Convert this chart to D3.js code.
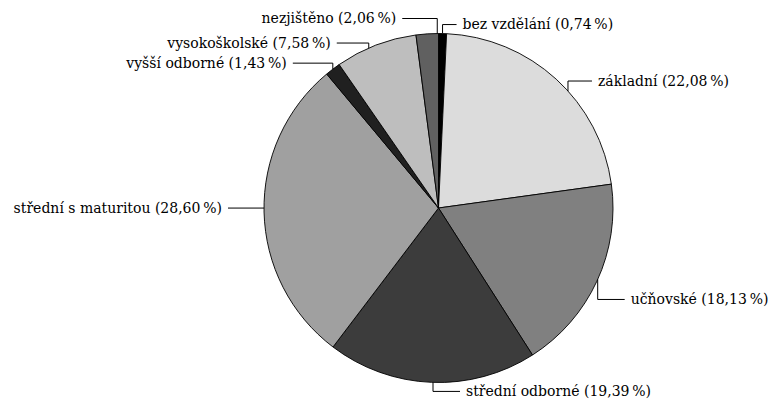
<!DOCTYPE html>
<html>
<head>
<meta charset="utf-8">
<script src="https://cdn.jsdelivr.net/npm/d3@7"></script>
<style>
  body { margin: 0; background: #fff; }
  svg text { font-family: "DejaVu Serif", serif; font-size: 14px; fill: #000; }
</style>
</head>
<body>
<script>
// data, clockwise from 12 o'clock
const categories = ["bez vzdělání", "základní", "učňovské", "střední odborné",
    "střední s maturitou", "vyšší odborné", "vysokoškolské", "nezjištěno"];
const shares = [0.74, 22.08, 18.13, 19.39, 28.60, 1.43, 7.58, 2.06];
const shades = ["#000000", "#dcdcdc", "#808080", "#3c3c3c", "#a0a0a0", "#202020", "#bebebe", "#606060"];

// leader lines: angle nudge (deg), vertical rise, horizontal run, side
const nudge = [0, 5.5, -0.6, -0.5, 1.3, 0, -2.5, 3.3];
const rise = [9, 10, 20, 9, 0, 6, 5, 15];
const run = [14, 24, 27, 27, 36, 40, 32, 35];
const side = [1, 1, 1, 1, -1, -1, -1, -1];

const width = 771, height = 400;
const cx = 438.5, cy = 208, radius = 174.5;

const fmt = v => d3.format(".2f")(v).replace(".", ",") + "\u2009%";

const svg = d3.select("body").append("svg")
    .attr("width", width)
    .attr("height", height);

const g = svg.append("g")
    .attr("transform", "translate(" + cx + "," + cy + ")");

const pie = d3.pie().sort(null).value(d => d.value);
const arcs = pie(categories.map((c, i) => ({name: c, value: shares[i], i: i})));

const arc = d3.arc().innerRadius(0).outerRadius(radius);

g.selectAll("path.slice")
    .data(arcs)
    .enter()
    .append("path")
    .attr("class", "slice")
    .attr("d", arc)
    .attr("fill", d => shades[d.data.i])
    .attr("stroke", "#000")
    .attr("stroke-width", 0.9)
    .attr("stroke-linejoin", "round");

// leaders
arcs.forEach(d => {
    const i = d.data.i;
    const a = (d.startAngle + d.endAngle) / 2 + nudge[i] * Math.PI / 180;
    const x0 = radius * Math.sin(a), y0 = -radius * Math.cos(a);
    const up = y0 < 0 ? -1 : 1;
    const y1 = y0 + up * rise[i];
    const x1 = x0 + side[i] * run[i];
    g.append("path")
        .attr("d", "M" + x0 + "," + y0 + "V" + y1 + "H" + x1)
        .attr("fill", "none")
        .attr("stroke", "#000")
        .attr("stroke-width", 1);
    g.append("text")
        .attr("x", x1 + side[i] * 6)
        .attr("y", y1)
        .attr("dy", "0.35em")
        .attr("text-anchor", side[i] > 0 ? "start" : "end")
        .text(d.data.name + " (" + fmt(d.data.value) + ")");
});
</script>
</body>
</html>
